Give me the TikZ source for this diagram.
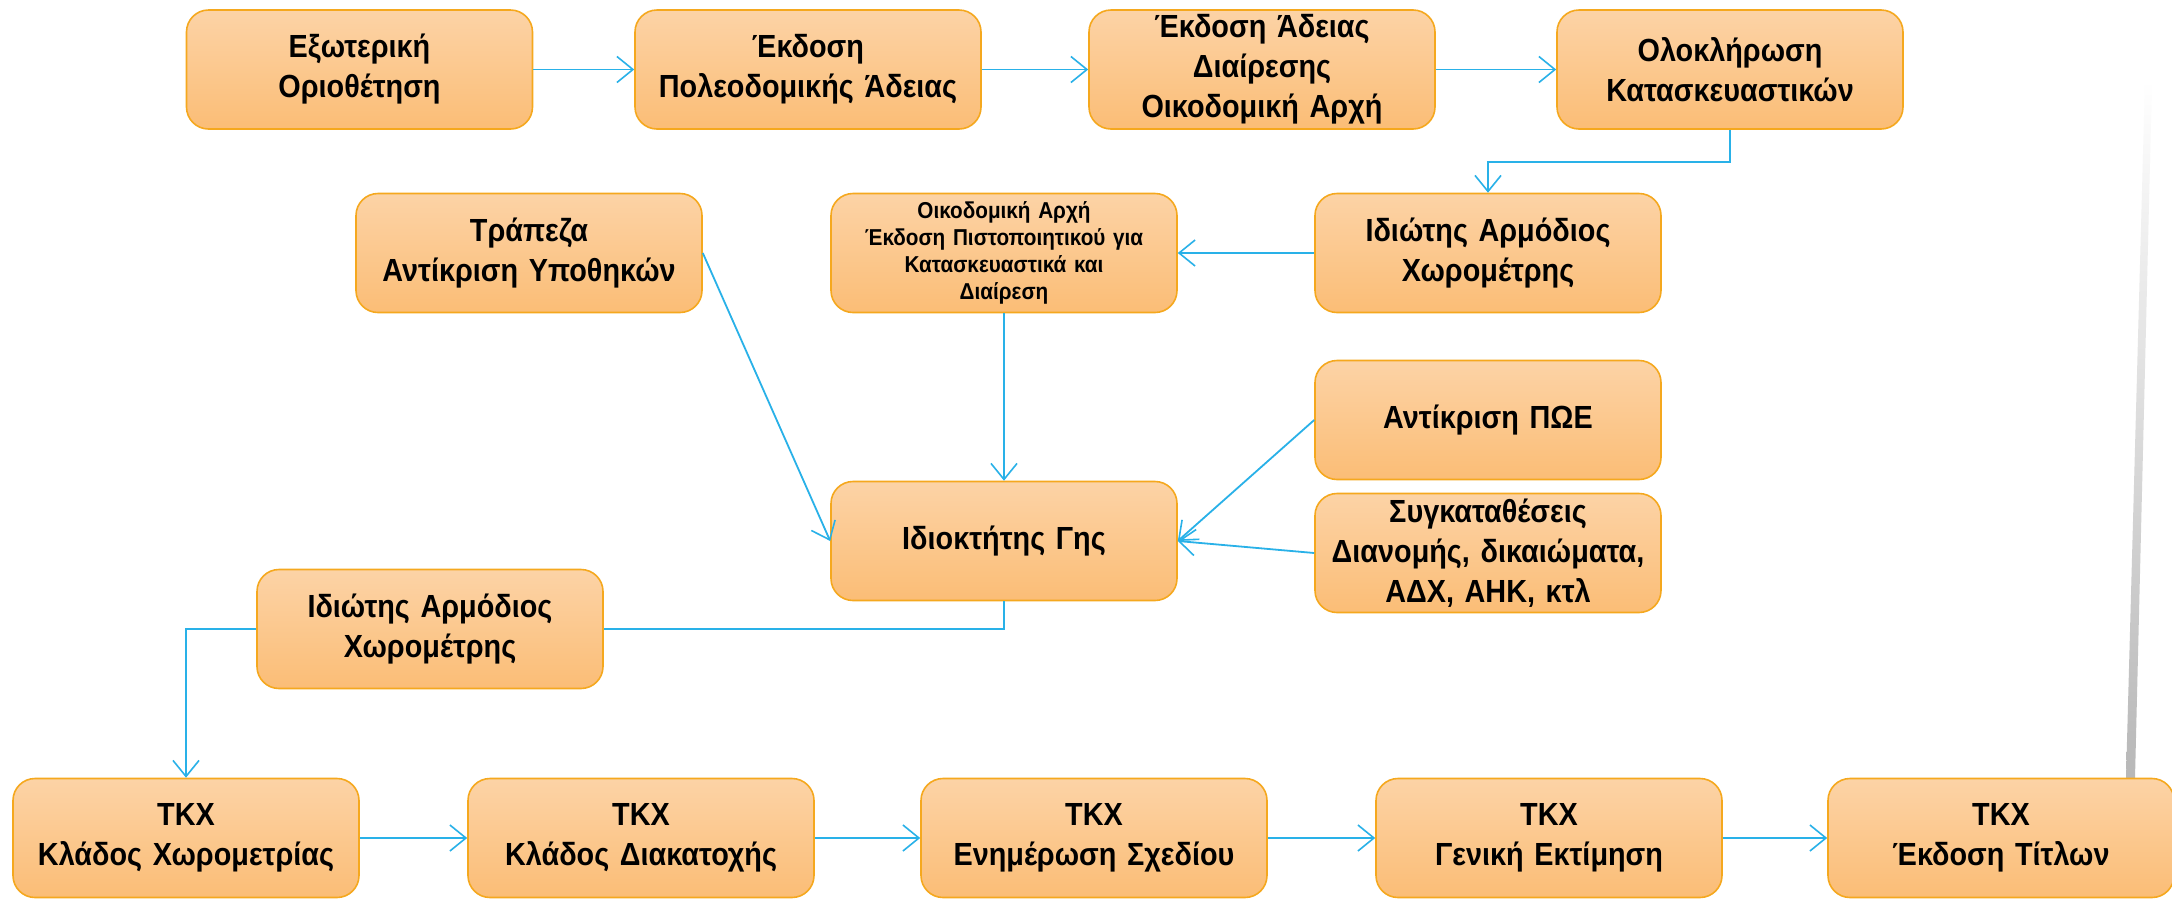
\documentclass[tikz,border=0pt]{standalone}
\usepackage{fontspec}
\setmainfont{Liberation Sans}[FakeStretch=0.9]
\usetikzlibrary{arrows.meta,calc}
\definecolor{boxtop}{HTML}{FCD3A6}
\definecolor{boxbot}{HTML}{FBBD76}
\definecolor{boxline}{HTML}{F5A81E}
\definecolor{arr}{HTML}{29B1E8}
\begin{document}
\begin{tikzpicture}[x=1pt,y=-1pt,
  box/.style={rounded corners=22pt, draw=boxline, line width=1.6pt,
    top color=boxtop, bottom color=boxbot,
    minimum width=346pt, minimum height=119pt, align=center,
    font=\bfseries\fontsize{32}{40}\selectfont, inner sep=0pt, text width=340pt},
  smallbox/.style={box, font=\bfseries\fontsize{23}{27}\selectfont},
  conn/.style={draw=arr, line width=1.8pt,
    -{Straight Barb[length=16pt,width=26pt,line width=1.6pt]}},
  plainconn/.style={draw=arr, line width=1.8pt}]
\useasboundingbox (0,0) rectangle (2172,898);
\fill[white] (0,0) rectangle (2172,898);
% faint background streak
\shade[top color=white, bottom color=black!28] (2145,80) -- (2152,80) -- (2135,778) -- (2126,778) -- cycle;

% row 1
\node[box] (b1) at (359.5,69.5) {Εξωτερική\\Οριοθέτηση};
\node[box] (b2) at (808,69.5) {Έκδοση\\Πολεοδομικής Άδειας};
\node[box] (b3) at (1262,69.5) {Έκδοση Άδειας\\Διαίρεσης\\Οικοδομική Αρχή};
\node[box] (b4) at (1730,69.5) {Ολοκλήρωση\\Κατασκευαστικών};
% row 2
\node[box] (bank) at (529,253) {Τράπεζα\\Αντίκριση Υποθηκών};
\node[smallbox] (oa) at (1004,253) {Οικοδομική Αρχή\\Έκδοση Πιστοποιητικού για\\Κατασκευαστικά και\\Διαίρεση};
\node[box] (iaxr) at (1488,253) {Ιδιώτης Αρμόδιος\\Χωρομέτρης};
% row 3
\node[box] (poe) at (1488,420) {Αντίκριση ΠΩΕ};
\node[box] (land) at (1004,541) {Ιδιοκτήτης Γης};
\node[box] (syg) at (1488,553) {Συγκαταθέσεις\\Διανομής, δικαιώματα,\\ΑΔΧ, ΑΗΚ, κτλ};
% row 4
\node[box] (iaxl) at (430,629) {Ιδιώτης Αρμόδιος\\Χωρομέτρης};
% row 5
\node[box] (t1) at (186,838) {ΤΚΧ\\Κλάδος Χωρομετρίας};
\node[box] (t2) at (641,838) {ΤΚΧ\\Κλάδος Διακατοχής};
\node[box] (t3) at (1094,838) {ΤΚΧ\\Ενημέρωση Σχεδίου};
\node[box] (t4) at (1549,838) {ΤΚΧ\\Γενική Εκτίμηση};
\node[box] (t5) at (2001,838) {ΤΚΧ\\Έκδοση Τίτλων};

% connectors
\draw[conn] (b1) -- (b2);
\draw[conn] (b2) -- (b3);
\draw[conn] (b3) -- (b4);
\draw[conn] (b4.south) -- ++(0,32) -| (iaxr.north);
\draw[conn] (iaxr) -- (oa);
\draw[conn] (oa) -- (land);
\draw[conn] (bank.east) -- (land.west);
\draw[conn] (poe.west) -- (land.east);
\draw[conn] (syg.west) -- (land.east);
\draw[plainconn] (land.south) |- (iaxl.east);
\draw[conn] (iaxl.west) -| (t1.north);
\draw[conn] (t1) -- (t2);
\draw[conn] (t2) -- (t3);
\draw[conn] (t3) -- (t4);
\draw[conn] (t4) -- (t5);
\end{tikzpicture}
\end{document}
